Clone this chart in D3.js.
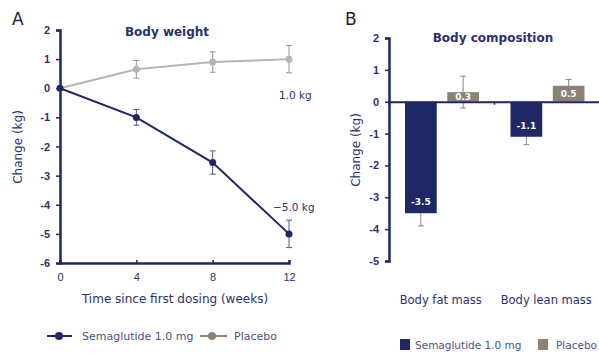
<!DOCTYPE html>
<html>
<head>
<meta charset="utf-8">
<script src="https://cdn.jsdelivr.net/npm/d3@7.9.0/dist/d3.min.js"></script>
<style>
  body { margin: 0; background: #fff; }
  svg { font-family: "DejaVu Sans", Verdana, sans-serif; }
</style>
</head>
<body>
<svg id="chart" width="599" height="353"></svg>
<script>
// panel A: body weight over time
const weeks = [0, 4, 8, 12];
const semaWeight = [0, -1.0, -2.55, -5.0];
const semaWeightErr = [0, 0.27, 0.4, 0.47];
const placeboWeight = [0, 0.65, 0.9, 1.0];
const placeboWeightErr = [0, 0.3, 0.35, 0.47];
const weightTicks = [2, 1, 0, -1, -2, -3, -4, -5, -6];

// panel B: body composition
const compCategories = ['Body fat mass', 'Body lean mass'];
const semaComp = [-3.5, -1.1];
const semaCompErr = [0.4, 0.25];
const placeboComp = [0.3, 0.5];
const placeboCompErr = [0.5, 0.2];
const compTicks = [2, 1, 0, -1, -2, -3, -4, -5];

const navy = '#1f2766';
const placeboLine = '#b9b4ad';
const placeboBar = '#8b8175';
const textCol = '#2b3170';
const legendText = '#4d5382';

const svg = d3.select('#chart');

// ---------- Panel A ----------
const xA = d3.scaleLinear().domain([0, 12]).range([60, 289]);
const yA = d3.scaleLinear().domain([-6, 2]).range([263, 30]);

svg.append('text').attr('x', 12).attr('y', 25).attr('font-size', 17).attr('fill', '#222').text('A');

svg.append('text').attr('x', 167).attr('y', 36).attr('text-anchor', 'middle')
  .attr('font-size', 12).attr('font-weight', 'bold').attr('fill', textCol).text('Body weight');

const axAy = svg.append('g').attr('transform', 'translate(60,0)')
  .call(d3.axisLeft(yA).tickValues(weightTicks).tickSize(4).tickPadding(6)
    .tickFormat(d => d < 0 ? '-' + Math.abs(d) : d));
const axAx = svg.append('g').attr('transform', 'translate(0,263)')
  .call(d3.axisBottom(xA).tickValues(weeks).tickSize(-3).tickPadding(10));
[axAy, axAx].forEach(g => {
  g.select('.domain').attr('stroke', navy).attr('stroke-width', 2.5);
  g.selectAll('.tick line').attr('stroke', navy).attr('stroke-width', 1.5);
  g.selectAll('.tick text').attr('fill', textCol).attr('font-size', 11);
});
axAy.selectAll('.tick text').attr('font-weight', 'bold');

svg.append('text').attr('transform', 'translate(22,147) rotate(-90)')
  .attr('text-anchor', 'middle').attr('font-size', 12).attr('fill', textCol).text('Change (kg)');
svg.append('text').attr('x', 175).attr('y', 303).attr('text-anchor', 'middle')
  .attr('font-size', 12).attr('fill', textCol).text('Time since first dosing (weeks)');

function drawSeries(vals, errs, col, errCol) {
  const pts = weeks.map((w, i) => ({ w, v: vals[i], e: errs[i] }));
  const g = svg.append('g');
  g.selectAll('.err').data(pts.filter(p => p.e > 0)).enter().append('path')
    .attr('d', p => {
      const x = xA(p.w), y1 = yA(p.v + p.e), y2 = yA(p.v - p.e);
      return `M${x},${y1}V${y2}M${x - 3},${y1}H${x + 3}M${x - 3},${y2}H${x + 3}`;
    })
    .attr('stroke', errCol).attr('stroke-width', 1).attr('fill', 'none');
  g.append('path').datum(pts)
    .attr('d', d3.line().x(p => xA(p.w)).y(p => yA(p.v)))
    .attr('stroke', col).attr('stroke-width', 2).attr('fill', 'none');
  g.selectAll('circle').data(pts).enter().append('circle')
    .attr('cx', p => xA(p.w)).attr('cy', p => yA(p.v)).attr('r', 3.5).attr('fill', col);
}
drawSeries(placeboWeight, placeboWeightErr, placeboLine, '#9a948c');
drawSeries(semaWeight, semaWeightErr, navy, '#555a80');

svg.append('text').attr('x', 279).attr('y', 99)
  .attr('font-size', 10.5).attr('fill', textCol).text(placeboWeight[3].toFixed(1) + ' kg');
svg.append('text').attr('x', 273).attr('y', 211)
  .attr('font-size', 10.5).attr('fill', textCol).text('\u2212' + Math.abs(semaWeight[3]).toFixed(1) + ' kg');

// legend A
const legA = svg.append('g').attr('transform', 'translate(0,336)');
[[47, 72, 59, navy, 'Semaglutide 1.0 mg', 82], [200, 227, 212, '#8b8175', 'Placebo', 234]].forEach(([x1, x2, cx, c, t, tx]) => {
  legA.append('line').attr('x1', x1).attr('x2', x2).attr('stroke', c).attr('stroke-width', 2);
  legA.append('circle').attr('cx', cx).attr('r', 4).attr('fill', c);
  legA.append('text').attr('x', tx).attr('y', 4).attr('font-size', 11).attr('fill', legendText).text(t);
});

// ---------- Panel B ----------
const xB = d3.scaleBand().domain(compCategories).range([389, 600]);
const xSub = d3.scaleBand().domain(['sema', 'placebo']).range([16, 90]).paddingInner(0.25);
const yB = d3.scaleLinear().domain([-5, 2]).range([261, 38]);

svg.append('text').attr('x', 345).attr('y', 25).attr('font-size', 17).attr('fill', '#222').text('B');
svg.append('text').attr('x', 493).attr('y', 42).attr('text-anchor', 'middle')
  .attr('font-size', 12).attr('font-weight', 'bold').attr('fill', textCol).text('Body composition');

const axBy = svg.append('g').attr('transform', 'translate(389,0)')
  .call(d3.axisLeft(yB).tickValues(compTicks).tickSize(4).tickPadding(6)
    .tickFormat(d => d < 0 ? '-' + Math.abs(d) : d));
axBy.select('.domain').attr('stroke', navy).attr('stroke-width', 2.5);
axBy.selectAll('.tick line').attr('stroke', navy).attr('stroke-width', 1.5);
axBy.selectAll('.tick text').attr('fill', textCol).attr('font-size', 11).attr('font-weight', 'bold');

svg.append('text').attr('transform', 'translate(360,150) rotate(-90)')
  .attr('text-anchor', 'middle').attr('font-size', 12).attr('fill', textCol).text('Change (kg)');

const bars = [];
compCategories.forEach((c, i) => {
  bars.push({ c, k: 'sema', v: semaComp[i], e: semaCompErr[i], col: navy });
  bars.push({ c, k: 'placebo', v: placeboComp[i], e: placeboCompErr[i], col: placeboBar });
});
const bx = b => xB(b.c) + xSub(b.k);
const bw = xSub.bandwidth();

// error bars behind the bars
svg.append('g').selectAll('path').data(bars).enter().append('path')
  .attr('d', b => {
    const x = bx(b) + bw / 2, y1 = yB(b.v + b.e), y2 = yB(b.v - b.e);
    return `M${x},${y1}V${y2}M${x - 3},${y1}H${x + 3}M${x - 3},${y2}H${x + 3}`;
  })
  .attr('stroke', '#8a8590').attr('stroke-width', 1).attr('fill', 'none');

svg.append('g').selectAll('rect').data(bars).enter().append('rect')
  .attr('x', bx).attr('width', bw)
  .attr('y', b => yB(Math.max(0, b.v)))
  .attr('height', b => Math.abs(yB(b.v) - yB(0)))
  .attr('fill', b => b.col);

svg.append('g').selectAll('text').data(bars).enter().append('text')
  .attr('x', b => bx(b) + bw / 2)
  .attr('y', b => b.v < 0 ? yB(b.v) - 8 : yB(b.v / 2) + 3.5)
  .attr('text-anchor', 'middle').attr('font-size', 9).attr('font-weight', 'bold')
  .attr('fill', '#fff').text(b => b.v.toFixed(1));

// zero line drawn on top
const axBx = svg.append('g').attr('transform', `translate(0,${yB(0)})`)
  .call(d3.axisBottom(xB).tickSize(3).tickFormat(''));
axBx.select('.domain').attr('stroke', navy).attr('stroke-width', 2);
axBx.selectAll('.tick line').attr('stroke', navy).attr('stroke-width', 1.5)
  .attr('transform', `translate(${xB.bandwidth() / 2},0)`);

svg.append('g').selectAll('text').data(compCategories).enter().append('text')
  .attr('x', c => xB(c) + xB.bandwidth() / 2 - 1).attr('y', 304)
  .attr('text-anchor', 'middle').attr('font-size', 11.5).attr('fill', textCol).text(c => c);

// legend B
const legB = svg.append('g').attr('transform', 'translate(0,346)');
[[400, navy, 'Semaglutide 1.0 mg', 415], [538, placeboBar, 'Placebo', 556]].forEach(([x, c, t, tx]) => {
  legB.append('rect').attr('x', x).attr('y', -7).attr('width', 10).attr('height', 11).attr('fill', c);
  legB.append('text').attr('x', tx).attr('y', 3).attr('font-size', 10.5).attr('fill', legendText).text(t);
});
</script>
</body>
</html>
